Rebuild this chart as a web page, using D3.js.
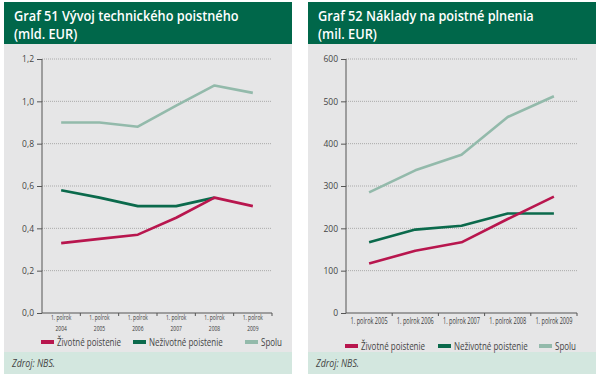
<!DOCTYPE html>
<html>
<head>
<meta charset="utf-8">
<script src="https://cdn.jsdelivr.net/npm/d3@7"></script>
<style>
	body { margin: 0; background: #fff; }
	svg { display: block; }
	.title { font-family: "Open Sans", sans-serif; font-weight: 600; font-size: 14px; fill: #fff; }
	.tick text { font-family: "Open Sans", sans-serif; font-size: 8.5px; fill: #444; }
	.xlab { font-family: "Open Sans", sans-serif; font-size: 9px; fill: #3c3c3c; }
	.xlab.two { font-size: 8px; }
	.legend text { font-family: "Open Sans", sans-serif; font-size: 10px; fill: #444; }
	.source { font-family: "Open Sans", sans-serif; font-style: italic; font-size: 10px; fill: #444; }
	.grid line { stroke: #aaa; stroke-dasharray: 1,1; }
	.axis path, .axis line { stroke: #555; }
</style>
</head>
<body>
<div id="chart"></div>
<script>

// Graf 51 - technical premium (mld. EUR)
var periods51 = ["2004", "2005", "2006", "2007", "2008", "2009"];
var life51 = [0.33, 0.35, 0.37, 0.45, 0.545, 0.505];
var nonlife51 = [0.58, 0.545, 0.505, 0.505, 0.545, null];
var total51 = [0.90, 0.90, 0.88, 0.98, 1.075, 1.04];
var ticks51 = [0, 0.2, 0.4, 0.6, 0.8, 1.0, 1.2];

// Graf 52 - claims expenses (mil. EUR)
var periods52 = ["2005", "2006", "2007", "2008", "2009"];
var life52 = [117, 147, 167, 222, 275];
var nonlife52 = [167, 197, 206, 235, 235];
var total52 = [285, 337, 374, 463, 512];
var ticks52 = [0, 100, 200, 300, 400, 500, 600];

var seriesNames = ["Životné poistenie", "Neživotné poistenie", "Spolu"];
var colors = ["#b8164e", "#0b6a4c", "#93baab"];


var svg = d3.select("#chart")
	.append("svg")
		.attr("width", 600)
		.attr("height", 376);


// squeeze text horizontally (the original uses a narrow font)
function condense(sel, k) {
	sel.each(function() {
		var len = this.getComputedTextLength();
		d3.select(this).attr("textLength", len * k).attr("lengthAdjust", "spacingAndGlyphs");
	});
}


function drawPanel(opt) {

	var x0 = opt.left, w = 288;
	var g = svg.append("g").attr("transform", "translate(" + x0 + ",0)");

	// panel backgrounds
	g.append("rect").attr("x", 0).attr("y", 44).attr("width", w).attr("height", 308).attr("fill", "#e6e6e7");
	g.append("rect").attr("x", 0).attr("y", 352).attr("width", w).attr("height", 22).attr("fill", "#d3e7df");
	g.append("rect").attr("x", 0).attr("y", 2).attr("width", w).attr("height", 42).attr("fill", "#00674a");

	g.append("text").attr("class", "title").attr("x", 10).attr("y", 21).text(opt.title[0]).call(condense, 0.91);
	g.append("text").attr("class", "title").attr("x", 10).attr("y", 39).text(opt.title[1]).call(condense, 0.91);

	g.append("text").attr("class", "source").attr("x", 8).attr("y", 367).text("Zdroj: NBS.").call(condense, 0.88);

	var plot = g.append("g").attr("transform", "translate(" + opt.axisX + ",0)");

	var xScale = d3.scaleBand().domain(opt.periods).range([0, opt.plotW]);
	var yScale = d3.scaleLinear().domain(opt.domain).range([313, 59]);

	plot.append("g")
		.attr("class", "grid")
		.selectAll("line")
		.data(opt.ticks.slice(1))
		.enter().append("line")
			.attr("x1", 0)
			.attr("x2", opt.plotW)
			.attr("y1", function(d) { return yScale(d); })
			.attr("y2", function(d) { return yScale(d); });

	var yAxis = d3.axisLeft().scale(yScale).tickValues(opt.ticks).tickSize(5).tickPadding(3).tickFormat(opt.fmt);
	plot.append("g").attr("class", "y axis").call(yAxis).call(function(s) { s.select(".domain").attr("d", "M0,59V313"); });

	// x axis with ticks at band edges
	var xa = plot.append("g").attr("class", "axis");
	xa.append("line").attr("x1", 0).attr("x2", opt.plotW).attr("y1", 313).attr("y2", 313);
	xa.selectAll("line.t")
		.data(opt.periods)
		.enter().append("line")
			.attr("class", "t")
			.attr("x1", function(d) { return xScale(d) + xScale.bandwidth(); })
			.attr("x2", function(d) { return xScale(d) + xScale.bandwidth(); })
			.attr("y1", 313).attr("y2", 316);

	var cx = function(d) { return xScale(d) + xScale.bandwidth() / 2; };

	// category labels, squeezed with a horizontal scale
	var k = opt.twoLine ? 0.62 : 0.62;
	var labs = plot.append("g").selectAll("text")
		.data(opt.periods)
		.enter().append("text")
			.attr("class", opt.twoLine ? "xlab two" : "xlab")
			.attr("text-anchor", "middle")
			.attr("transform", function(d) { return "translate(" + cx(d) + "," + (opt.twoLine ? 320 : 324) + ") scale(" + k + ",1)"; });

	if(opt.twoLine) {
		labs.append("tspan").attr("x", 0).attr("y", 0).text("1. polrok");
		labs.append("tspan").attr("x", 0).attr("y", 11).text(function(d) { return d; });
	} else {
		labs.text(function(d) { return "1. polrok " + d; });
	}

	var line = d3.line()
		.defined(function(d) { return d[1] !== null; })
		.x(function(d) { return cx(d[0]); })
		.y(function(d) { return yScale(d[1]); });

	var order = [2, 1, 0];
	order.forEach(function(i) {
		var pts = opt.periods.map(function(p, j) { return [p, opt.series[i][j]]; });
		plot.append("path")
			.attr("d", line(pts))
			.attr("fill", "none")
			.attr("stroke", colors[i])
			.attr("stroke-width", 2.6)
			.attr("stroke-linejoin", "round");
	});

	// legend
	var lg = g.append("g").attr("class", "legend");
	seriesNames.forEach(function(name, i) {
		var lx = opt.legendX[i];
		lg.append("line")
			.attr("x1", lx).attr("x2", lx + 13)
			.attr("y1", opt.legendY).attr("y2", opt.legendY)
			.attr("stroke", colors[i]).attr("stroke-width", 4);
		lg.append("text")
			.attr("x", lx + 16).attr("y", opt.legendY + 3.5)
			.text(name)
			.call(condense, 0.8);
	});
}


drawPanel({
	left: 4,
	title: ["Graf 51 Vývoj technického poistného", "(mld. EUR)"],
	axisX: 38,
	plotW: 230,
	periods: periods51,
	series: [life51, nonlife51, total51],
	domain: [0, 1.2],
	ticks: ticks51,
	fmt: function(d) { return d3.format(".1f")(d).replace(".", ","); },
	twoLine: true,
	legendX: [37, 129, 241],
	legendY: 342
});

drawPanel({
	left: 308,
	title: ["Graf 52 Náklady na poistné plnenia", "(mil. EUR)"],
	axisX: 38,
	plotW: 231,
	periods: periods52,
	series: [life52, nonlife52, total52],
	domain: [0, 600],
	ticks: ticks52,
	fmt: d3.format("d"),
	twoLine: false,
	legendX: [37, 130, 231],
	legendY: 346
});

</script>
</body>
</html>
